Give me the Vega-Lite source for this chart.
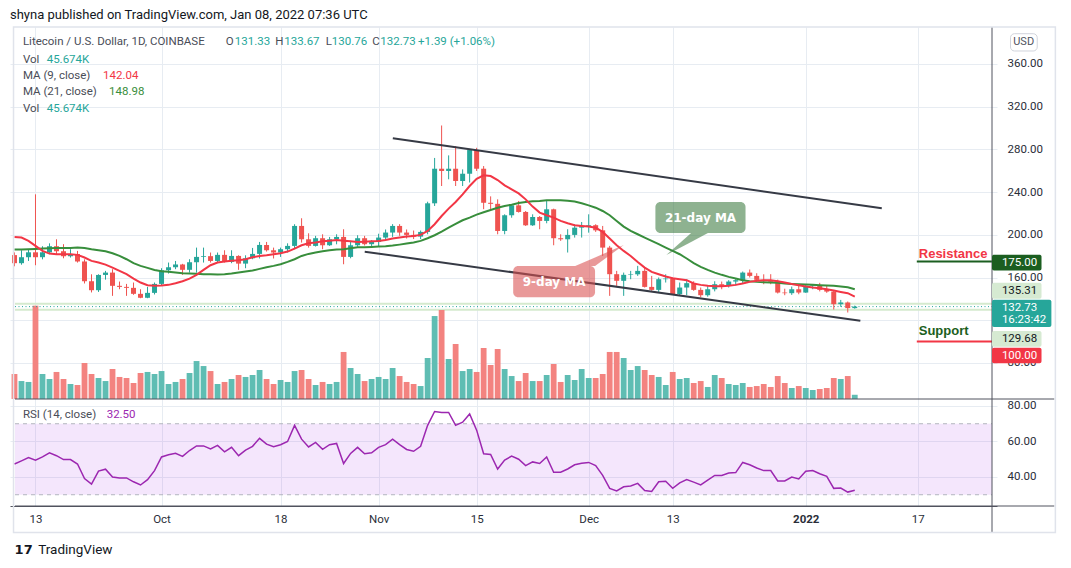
{
"$schema":"https://vega.github.io/schema/vega-lite/v6.json",
"width":987,"height":479,
"autosize":{"type":"none"},
"padding":{"left":10,"top":27,"right":74,"bottom":62},
"background":"#ffffff",
"title":{"text":"shyna published on TradingView.com, Jan 08, 2022 07:36 UTC","anchor":"start","frame":"group","font":"Roboto","fontSize":13,"fontWeight":"normal","color":"#131722","offset":4},
"config":{"view":{"stroke":null},"font":"Roboto"},
"datasets":{
"d":[
{"t":"2021-09-10","o":181,"h":183.5,"l":170.5,"c":173.4,"v":270,"m9":198,"m21":186.2,"r":47.3},
{"t":"2021-09-11","o":173.4,"h":185.5,"l":172,"c":179,"v":194,"m9":197.4,"m21":186.2,"r":49.1},
{"t":"2021-09-12","o":179,"h":185.8,"l":175.5,"c":183.6,"v":184,"m9":194.3,"m21":186.5,"r":50.9},
{"t":"2021-09-13","o":183.6,"h":237.9,"l":171.5,"c":179,"v":1008,"m9":189.6,"m21":186.8,"r":49.5},
{"t":"2021-09-14","o":179,"h":189.3,"l":177,"c":183.6,"v":270,"m9":184.9,"m21":187.1,"r":51.3},
{"t":"2021-09-15","o":183.6,"h":192,"l":181.8,"c":189.3,"v":216,"m9":182.4,"m21":187.4,"r":53.6},
{"t":"2021-09-16","o":189.3,"h":195.8,"l":181.8,"c":184.6,"v":292,"m9":181.8,"m21":187.7,"r":52},
{"t":"2021-09-17","o":184.6,"h":191.2,"l":178,"c":179.9,"v":216,"m9":181.8,"m21":187.7,"r":49.8},
{"t":"2021-09-18","o":179.9,"h":186.5,"l":178.7,"c":182,"v":162,"m9":181.8,"m21":187.7,"r":49.8},
{"t":"2021-09-19","o":182,"h":184.9,"l":174,"c":175,"v":151,"m9":181.2,"m21":188,"r":47.3},
{"t":"2021-09-20","o":175,"h":177,"l":154.4,"c":156.5,"v":389,"m9":178.7,"m21":187.7,"r":39.1},
{"t":"2021-09-21","o":156.5,"h":163,"l":146,"c":148.1,"v":270,"m9":175.6,"m21":186.5,"r":36},
{"t":"2021-09-22","o":148.1,"h":163,"l":146.5,"c":162.4,"v":227,"m9":174,"m21":185.5,"r":43.3},
{"t":"2021-09-23","o":162.4,"h":166.2,"l":158,"c":164.6,"v":194,"m9":172.1,"m21":184.6,"r":44.4},
{"t":"2021-09-24","o":164.6,"h":167.8,"l":142.8,"c":152.2,"v":324,"m9":169.3,"m21":182.7,"r":40},
{"t":"2021-09-25","o":152.2,"h":156.2,"l":149,"c":151.2,"v":238,"m9":166.2,"m21":180.2,"r":39.5},
{"t":"2021-09-26","o":151.2,"h":154,"l":142.8,"c":150.3,"v":227,"m9":163.1,"m21":177.1,"r":39.5},
{"t":"2021-09-27","o":150.3,"h":155.3,"l":143.8,"c":144.7,"v":173,"m9":159,"m21":173.4,"r":37.3},
{"t":"2021-09-28","o":144.7,"h":149,"l":140.6,"c":141,"v":281,"m9":155.3,"m21":170.9,"r":35.5},
{"t":"2021-09-29","o":141,"h":151.2,"l":140.6,"c":145.6,"v":292,"m9":152.8,"m21":169,"r":38.5},
{"t":"2021-09-30","o":145.6,"h":155.3,"l":144.1,"c":154,"v":270,"m9":152.2,"m21":167.1,"r":43.6},
{"t":"2021-10-01","o":154,"h":168.7,"l":152.2,"c":166.8,"v":302,"m9":152.5,"m21":165.9,"r":51.3},
{"t":"2021-10-02","o":166.8,"h":174,"l":163.7,"c":169.6,"v":162,"m9":153.1,"m21":165.3,"r":52.5},
{"t":"2021-10-03","o":169.6,"h":175.5,"l":167.8,"c":172.2,"v":184,"m9":154.7,"m21":164.6,"r":53.3},
{"t":"2021-10-04","o":172.2,"h":172.8,"l":162.5,"c":167.2,"v":216,"m9":156.5,"m21":164,"r":51.6},
{"t":"2021-10-05","o":167.2,"h":177.1,"l":164.6,"c":174.3,"v":281,"m9":159,"m21":163.7,"r":54.9},
{"t":"2021-10-06","o":174.3,"h":188,"l":164.6,"c":179.3,"v":410,"m9":162.5,"m21":163.4,"r":57.5},
{"t":"2021-10-07","o":179.3,"h":188,"l":174,"c":180,"v":356,"m9":167.1,"m21":163.1,"r":57.5},
{"t":"2021-10-08","o":180,"h":183.4,"l":174,"c":175.5,"v":302,"m9":171.5,"m21":163.1,"r":55.8},
{"t":"2021-10-09","o":175.5,"h":183.4,"l":174,"c":181.2,"v":162,"m9":174,"m21":162.8,"r":57.8},
{"t":"2021-10-10","o":181.2,"h":185.5,"l":174,"c":174.6,"v":184,"m9":174.9,"m21":163.1,"r":54.2},
{"t":"2021-10-11","o":174.6,"h":185.5,"l":173.4,"c":180.2,"v":216,"m9":175.6,"m21":163.7,"r":56.7},
{"t":"2021-10-12","o":180.2,"h":180.8,"l":167.2,"c":173,"v":259,"m9":176.2,"m21":164.6,"r":52},
{"t":"2021-10-13","o":173,"h":180.8,"l":168.7,"c":178,"v":238,"m9":177.1,"m21":165.6,"r":55.1},
{"t":"2021-10-14","o":178,"h":187.7,"l":177.1,"c":182.1,"v":259,"m9":179,"m21":166.5,"r":57.3},
{"t":"2021-10-15","o":182.1,"h":193.3,"l":177.8,"c":190.5,"v":313,"m9":180.2,"m21":168.1,"r":61.8},
{"t":"2021-10-16","o":190.5,"h":193.3,"l":184.3,"c":185.5,"v":216,"m9":180.9,"m21":169.6,"r":58.5},
{"t":"2021-10-17","o":185.5,"h":188,"l":177.8,"c":183.4,"v":162,"m9":181.8,"m21":170.9,"r":57.1},
{"t":"2021-10-18","o":183.4,"h":188,"l":179.3,"c":186.5,"v":205,"m9":182.7,"m21":172.4,"r":58.2},
{"t":"2021-10-19","o":186.5,"h":192,"l":183.4,"c":189.6,"v":184,"m9":184.3,"m21":174.6,"r":60},
{"t":"2021-10-20","o":189.6,"h":209.9,"l":186.5,"c":208.3,"v":302,"m9":187.1,"m21":177.1,"r":69.1},
{"t":"2021-10-21","o":208.3,"h":215.5,"l":192.7,"c":195.8,"v":313,"m9":190.2,"m21":180.2,"r":61.3},
{"t":"2021-10-22","o":195.8,"h":201.4,"l":188,"c":189.6,"v":216,"m9":192.1,"m21":182.1,"r":56.9},
{"t":"2021-10-23","o":189.6,"h":199,"l":189,"c":196.8,"v":151,"m9":192.7,"m21":183.4,"r":59.5},
{"t":"2021-10-24","o":196.8,"h":200.5,"l":186.5,"c":190.2,"v":184,"m9":193.9,"m21":184.6,"r":55.6},
{"t":"2021-10-25","o":190.2,"h":198,"l":189.6,"c":195.8,"v":162,"m9":194.5,"m21":185.5,"r":58.2},
{"t":"2021-10-26","o":195.8,"h":200.5,"l":191.1,"c":198,"v":184,"m9":195.2,"m21":186.2,"r":58.9},
{"t":"2021-10-27","o":198,"h":205.2,"l":172.4,"c":179.3,"v":508,"m9":194.5,"m21":186.5,"r":47.6},
{"t":"2021-10-28","o":179.3,"h":194.3,"l":178,"c":190.2,"v":335,"m9":193.9,"m21":187.4,"r":53.3},
{"t":"2021-10-29","o":190.2,"h":199.6,"l":188.7,"c":196.8,"v":270,"m9":193.3,"m21":188.3,"r":56.7},
{"t":"2021-10-30","o":196.8,"h":199,"l":190,"c":191.2,"v":194,"m9":193.6,"m21":188.3,"r":53.1},
{"t":"2021-10-31","o":191.2,"h":195,"l":188.7,"c":193.3,"v":216,"m9":193.9,"m21":188.6,"r":53.6},
{"t":"2021-11-01","o":193.3,"h":201,"l":189,"c":197.4,"v":238,"m9":194.3,"m21":189,"r":56.7},
{"t":"2021-11-02","o":197.4,"h":205,"l":195,"c":202.1,"v":216,"m9":195.2,"m21":189.3,"r":58.2},
{"t":"2021-11-03","o":202.1,"h":210,"l":198,"c":208.3,"v":335,"m9":196.5,"m21":189.9,"r":61.3},
{"t":"2021-11-04","o":208.3,"h":210,"l":199,"c":202.1,"v":248,"m9":197.4,"m21":190.8,"r":58.2},
{"t":"2021-11-05","o":202.1,"h":205,"l":196.5,"c":199.9,"v":184,"m9":198.3,"m21":191.8,"r":55.5},
{"t":"2021-11-06","o":199.9,"h":204,"l":196,"c":198.3,"v":162,"m9":198.9,"m21":192.7,"r":54.5},
{"t":"2021-11-07","o":198.3,"h":204,"l":196,"c":202.7,"v":140,"m9":199.9,"m21":194.3,"r":57.3},
{"t":"2021-11-08","o":202.7,"h":231,"l":200.5,"c":229.5,"v":443,"m9":203.6,"m21":196.8,"r":69.1},
{"t":"2021-11-09","o":229.5,"h":272,"l":227,"c":261.9,"v":896,"m9":209.9,"m21":199.6,"r":76.9},
{"t":"2021-11-10","o":261.9,"h":302.4,"l":245.7,"c":259.8,"v":961,"m9":217.6,"m21":203,"r":76.4},
{"t":"2021-11-11","o":259.8,"h":274.4,"l":252,"c":261.9,"v":432,"m9":224.5,"m21":206.7,"r":76.4},
{"t":"2021-11-12","o":261.9,"h":283.1,"l":245.7,"c":250.4,"v":594,"m9":230.7,"m21":210.2,"r":69.1},
{"t":"2021-11-13","o":250.4,"h":261.3,"l":245.7,"c":257.2,"v":302,"m9":237.9,"m21":213.6,"r":70.9},
{"t":"2021-11-14","o":257.2,"h":280.5,"l":249,"c":279.4,"v":324,"m9":245.7,"m21":216.1,"r":75.5},
{"t":"2021-11-15","o":279.4,"h":281.5,"l":259.8,"c":261.9,"v":292,"m9":252.5,"m21":218.9,"r":66.4},
{"t":"2021-11-16","o":261.9,"h":264.4,"l":224,"c":230,"v":551,"m9":255.7,"m21":221.1,"r":53.1},
{"t":"2021-11-17","o":230,"h":236,"l":224,"c":229,"v":367,"m9":255,"m21":223.3,"r":52.7},
{"t":"2021-11-18","o":229,"h":233.2,"l":200.5,"c":203.6,"v":540,"m9":251.3,"m21":225.4,"r":44.5},
{"t":"2021-11-19","o":203.6,"h":219.2,"l":200.5,"c":218.3,"v":324,"m9":246.3,"m21":227,"r":49.5},
{"t":"2021-11-20","o":218.3,"h":228.5,"l":216,"c":227.6,"v":248,"m9":242.6,"m21":228.2,"r":51.8},
{"t":"2021-11-21","o":227.6,"h":231.7,"l":220.8,"c":221.4,"v":194,"m9":238.8,"m21":229.8,"r":50},
{"t":"2021-11-22","o":221.4,"h":222.3,"l":208.3,"c":208.9,"v":281,"m9":233.2,"m21":230.7,"r":46.4},
{"t":"2021-11-23","o":208.9,"h":219.2,"l":208.3,"c":216.7,"v":194,"m9":226.4,"m21":231.4,"r":48.5},
{"t":"2021-11-24","o":216.7,"h":217.6,"l":205.2,"c":213,"v":194,"m9":220.8,"m21":231.7,"r":47.6},
{"t":"2021-11-25","o":213,"h":232.3,"l":210.8,"c":223.9,"v":259,"m9":218.3,"m21":232.3,"r":51.3},
{"t":"2021-11-26","o":223.9,"h":224.5,"l":190.2,"c":196.8,"v":378,"m9":216.1,"m21":232.3,"r":42.7},
{"t":"2021-11-27","o":196.8,"h":200.5,"l":194.3,"c":195.8,"v":184,"m9":213,"m21":232.3,"r":42.7},
{"t":"2021-11-28","o":195.8,"h":205.2,"l":183.4,"c":199.9,"v":259,"m9":210.8,"m21":232,"r":44.5},
{"t":"2021-11-29","o":199.9,"h":209.9,"l":197.4,"c":206.7,"v":205,"m9":208.9,"m21":231.1,"r":46.9},
{"t":"2021-11-30","o":206.7,"h":212,"l":197.4,"c":208.3,"v":324,"m9":208.3,"m21":229.5,"r":47.8},
{"t":"2021-12-01","o":208.3,"h":219.2,"l":202,"c":209,"v":227,"m9":207.7,"m21":227.6,"r":48.2},
{"t":"2021-12-02","o":209,"h":209.9,"l":202.7,"c":204.2,"v":227,"m9":206.7,"m21":225.4,"r":46.4},
{"t":"2021-12-03","o":204.2,"h":208.3,"l":180.2,"c":188,"v":270,"m9":202.7,"m21":222.3,"r":40.9},
{"t":"2021-12-04","o":188,"h":189.6,"l":142.8,"c":163.1,"v":508,"m9":196.5,"m21":218.3,"r":33.6},
{"t":"2021-12-05","o":163.1,"h":166.2,"l":152.2,"c":156.9,"v":508,"m9":190.2,"m21":213,"r":32.2},
{"t":"2021-12-06","o":156.9,"h":164.6,"l":142.8,"c":162.5,"v":443,"m9":184.9,"m21":207.7,"r":34.5},
{"t":"2021-12-07","o":162.5,"h":166.2,"l":158.4,"c":163,"v":313,"m9":180.2,"m21":203.6,"r":34.9},
{"t":"2021-12-08","o":163,"h":170.9,"l":161.5,"c":166.2,"v":356,"m9":174.6,"m21":200.5,"r":36.4},
{"t":"2021-12-09","o":166.2,"h":169.3,"l":150.6,"c":151.2,"v":313,"m9":169.3,"m21":197.4,"r":32.4},
{"t":"2021-12-10","o":151.2,"h":161.5,"l":147.5,"c":148.4,"v":259,"m9":165.3,"m21":194.3,"r":31.8},
{"t":"2021-12-11","o":148.4,"h":160,"l":146.5,"c":158.4,"v":238,"m9":163.1,"m21":191.2,"r":37.3},
{"t":"2021-12-12","o":158.4,"h":163,"l":155.3,"c":159,"v":151,"m9":160.9,"m21":188,"r":37.6},
{"t":"2021-12-13","o":159,"h":160,"l":143.7,"c":144.4,"v":292,"m9":159.3,"m21":184.9,"r":33.6},
{"t":"2021-12-14","o":144.4,"h":155.3,"l":143.4,"c":150.6,"v":216,"m9":158.4,"m21":181.8,"r":36.7},
{"t":"2021-12-15","o":150.6,"h":158.4,"l":143.4,"c":154.7,"v":227,"m9":157.5,"m21":177.8,"r":38.5},
{"t":"2021-12-16","o":154.7,"h":156.5,"l":147.5,"c":148.4,"v":173,"m9":154.4,"m21":173.4,"r":37.1},
{"t":"2021-12-17","o":148.4,"h":150.6,"l":141.5,"c":143.4,"v":194,"m9":153.1,"m21":170,"r":35.5},
{"t":"2021-12-18","o":143.4,"h":152,"l":142,"c":149,"v":130,"m9":152.2,"m21":167.1,"r":38.2},
{"t":"2021-12-19","o":149,"h":156.5,"l":147,"c":153.7,"v":259,"m9":151.9,"m21":164.6,"r":40.9},
{"t":"2021-12-20","o":153.7,"h":156.2,"l":149,"c":152.2,"v":227,"m9":151.9,"m21":162.5,"r":40.9},
{"t":"2021-12-21","o":152.2,"h":157.5,"l":150.6,"c":156.2,"v":162,"m9":152.2,"m21":160.6,"r":42.2},
{"t":"2021-12-22","o":156.2,"h":159,"l":152.5,"c":157.5,"v":151,"m9":153.1,"m21":159,"r":42.5},
{"t":"2021-12-23","o":157.5,"h":165.6,"l":154,"c":164.6,"v":173,"m9":154.4,"m21":157.5,"r":48.2},
{"t":"2021-12-24","o":164.6,"h":167.5,"l":160,"c":161.5,"v":130,"m9":155.9,"m21":156.5,"r":46.9},
{"t":"2021-12-25","o":161.5,"h":164,"l":157.2,"c":157.8,"v":140,"m9":156.9,"m21":155.9,"r":45.1},
{"t":"2021-12-26","o":157.8,"h":163,"l":153.7,"c":156.9,"v":162,"m9":157.5,"m21":155.6,"r":43.6},
{"t":"2021-12-27","o":156.9,"h":163.1,"l":153.7,"c":156,"v":130,"m9":157.5,"m21":155.3,"r":43.6},
{"t":"2021-12-28","o":156,"h":158,"l":145,"c":145.9,"v":248,"m9":156.5,"m21":155,"r":37.8},
{"t":"2021-12-29","o":145.9,"h":149.5,"l":143.4,"c":145.3,"v":173,"m9":155.3,"m21":154.4,"r":37.8},
{"t":"2021-12-30","o":145.3,"h":151.5,"l":143.7,"c":149,"v":119,"m9":154,"m21":154,"r":40},
{"t":"2021-12-31","o":149,"h":152.3,"l":144.3,"c":145.9,"v":140,"m9":152.8,"m21":153.7,"r":38.9},
{"t":"2022-01-01","o":145.9,"h":153,"l":145.6,"c":152.2,"v":119,"m9":151.5,"m21":153.4,"r":43.3},
{"t":"2022-01-02","o":152.2,"h":153.5,"l":149,"c":152.8,"v":97,"m9":150.6,"m21":153.1,"r":43.6},
{"t":"2022-01-03","o":152.8,"h":155,"l":147,"c":148.4,"v":108,"m9":150,"m21":152.8,"r":41.8},
{"t":"2022-01-04","o":148.4,"h":152,"l":145.6,"c":146.8,"v":119,"m9":149,"m21":152.5,"r":40.4},
{"t":"2022-01-05","o":146.8,"h":148.4,"l":130,"c":135,"v":227,"m9":147.8,"m21":152.2,"r":33.6},
{"t":"2022-01-06","o":135,"h":139,"l":132.5,"c":136.6,"v":216,"m9":146.5,"m21":151.5,"r":33.8},
{"t":"2022-01-07","o":136.6,"h":137.5,"l":127.2,"c":131.33,"v":248,"m9":145.3,"m21":150.9,"r":31.5},
{"t":"2022-01-08","o":131.33,"h":133.67,"l":130.76,"c":132.73,"v":45.674,"m9":142.04,"m21":148.98,"r":32.5}
],
"hl":[{"t":"2021-09-10T01:46:00Z","t2":"2022-01-27T14:23:00Z","p":135.31},{"t":"2021-09-10T01:46:00Z","t2":"2022-01-27T14:23:00Z","p":129.68}],
"dot":[{"t":"2021-09-10T01:46:00Z","t2":"2022-01-27T14:23:00Z","p":132.73}],
"ch":[{"t":"2021-11-03T00:43:00Z","p":290.37,"g":"upper"},{"t":"2022-01-11T20:38:00Z","p":224.8,"g":"upper"},{"t":"2021-10-30T00:29:00Z","p":184.2,"g":"lower"},{"t":"2022-01-08T19:12:00Z","p":119.53,"g":"lower"}],
"cb":[{"t":"2021-12-10T12:43:00Z","t2":"2021-12-23T09:36:00Z","p":230.73,"p2":201.69,"k":"box21"},{"t":"2021-11-20T05:17:00Z","t2":"2021-12-01T21:50:00Z","p":170.77,"p2":141.45,"k":"box9"}],
"pt":[{"t":"2021-12-12T02:10:00Z","p":181.08,"p2":181.08,"g":"a","k":"box21"},{"t":"2021-12-15T15:07:00Z","p":201.69,"p2":193.35,"g":"a","k":"box21"},{"t":"2021-12-18T00:43:00Z","p":201.69,"p2":201.69,"g":"a","k":"box21"},{"t":"2021-11-29T01:55:00Z","p":170.77,"p2":170.77,"g":"b","k":"box9"},{"t":"2021-12-01T21:50:00Z","p":178.8,"p2":170.77,"g":"b","k":"box9"},{"t":"2021-12-06T00:14:00Z","p":190.44,"p2":190.44,"g":"b","k":"box9"}],
"ct":[{"t":"2021-12-16T23:17:00Z","p":216.2,"text":"21-day MA"},{"t":"2021-11-26T01:41:00Z","p":156.06,"text":"9-day MA"}],
"sr":[{"t":"2022-01-16T20:38:00Z","t2":"2022-01-27T14:23:00Z","p":175,"k":"res"},{"t":"2022-01-16T20:38:00Z","t2":"2022-01-27T14:23:00Z","p":100,"k":"sup"}],
"srt":[{"t":"2022-01-17T03:22:00Z","p":181.7,"text":"Resistance","k":"sup"},{"t":"2022-01-17T03:22:00Z","p":109.6,"text":"Support","k":"res"}],
"sep":[{"t":"2021-09-10T01:46:00Z","t2":"2022-02-05T12:00:00Z","p":46.18},{"t":"2021-09-10T01:46:00Z","t2":"2022-02-05T12:00:00Z","p":-54.05}],
"vx":[{"t":"2022-01-27T14:23:00Z","p":394.66,"p2":-78.4}],
"fr":[{"t":"2021-09-09T20:41:00Z","t2":"2022-02-05T15:36:00Z","p":394.66,"p2":-78.9}],
"bg":[{"t":"2022-01-27T14:23:00Z","t2":"2022-02-03T16:05:00Z","p":181.4,"p2":166.5,"k":"res"},{"t":"2022-01-27T14:23:00Z","t2":"2022-02-03T16:05:00Z","p":155.13,"p2":140.14,"k":"line"},{"t":"2022-01-27T14:23:00Z","t2":"2022-02-05T01:55:00Z","p":139.2,"p2":113.58,"k":"last"},{"t":"2022-01-27T14:23:00Z","t2":"2022-02-03T16:05:00Z","p":109.88,"p2":95.18,"k":"line"},{"t":"2022-01-27T14:23:00Z","t2":"2022-02-03T16:05:00Z","p":94.24,"p2":79.63,"k":"sup"}],
"bt":[{"t":"2022-01-29T00:14:00Z","p":174.05,"text":"175.00","k":"w"},{"t":"2022-01-29T00:14:00Z","p":147.6,"text":"135.31","k":"k"},{"t":"2022-01-29T00:14:00Z","p":131.43,"text":"132.73","k":"w"},{"t":"2022-01-29T00:14:00Z","p":119.9,"text":"16:23:42","k":"w"},{"t":"2022-01-29T00:14:00Z","p":102.53,"text":"129.68","k":"k"},{"t":"2022-01-29T00:14:00Z","p":86.93,"text":"100.00","k":"w"}],
"usd":[{"t":"2022-01-30T05:46:00Z","t2":"2022-02-03T01:26:00Z","p":388.38,"p2":372.18}],
"usdt":[{"t":"2022-02-01T02:53:00Z","p":380.28,"text":"USD"}],
"lg":[
{"t":"2021-09-11T04:55:00Z","p":380.6,"text":"Litecoin / U.S. Dollar, 1D, COINBASE","k":"lbl"},
{"t":"2021-10-10T04:19:00Z","p":380.6,"text":"O","k":"lbl"},
{"t":"2021-10-11T11:02:00Z","p":380.6,"text":"131.33","k":"val"},
{"t":"2021-10-17T06:00:00Z","p":380.6,"text":"H","k":"lbl"},
{"t":"2021-10-18T12:29:00Z","p":380.6,"text":"133.67","k":"val"},
{"t":"2021-10-24T11:02:00Z","p":380.6,"text":"L","k":"lbl"},
{"t":"2021-10-25T07:26:00Z","p":380.6,"text":"130.76","k":"val"},
{"t":"2021-10-31T02:38:00Z","p":380.6,"text":"C","k":"lbl"},
{"t":"2021-11-01T05:46:00Z","p":380.6,"text":"132.73","k":"val"},
{"t":"2021-11-06T14:38:00Z","p":380.6,"text":"+1.39 (+1.06%)","k":"val"},
{"t":"2021-09-11T04:55:00Z","p":364.0,"text":"Vol","k":"lbl"},
{"t":"2021-09-14T14:20:00Z","p":364.0,"text":"45.674K","k":"val"},
{"t":"2021-09-11T04:55:00Z","p":348.5,"text":"MA (9, close)","k":"lbl"},
{"t":"2021-09-22T15:43:00Z","p":348.5,"text":"142.04","k":"ma9"},
{"t":"2021-09-11T04:55:00Z","p":333.5,"text":"MA (21, close)","k":"lbl"},
{"t":"2021-09-23T12:00:00Z","p":333.5,"text":"148.98","k":"ma21"},
{"t":"2021-09-11T04:55:00Z","p":317.85,"text":"Vol","k":"lbl"},
{"t":"2021-09-14T14:20:00Z","p":317.85,"text":"45.674K","k":"val"}
],
"ft":[{"t":"2021-09-13T09:10:00Z","p":-95.3,"text":"TradingView"}],
"lo":[{"t":"2021-09-10T00:25:00Z","p":-95.3,"text":"17"}],
"rb":[{"t":"2021-09-10T01:46:00Z","t2":"2022-01-27T14:23:00Z","r":30,"r2":70}],
"rd":[{"t":"2021-09-10T01:46:00Z","t2":"2022-01-27T14:23:00Z","r":70},{"t":"2021-09-10T01:46:00Z","t2":"2022-01-27T14:23:00Z","r":30}],
"rt":[{"t":"2021-09-11T04:55:00Z","r":74.8,"text":"RSI (14, close)","k":"lbl"},{"t":"2021-09-23T03:56:00Z","r":74.8,"text":"32.50","k":"rsi"}]
},
"encoding":{"x":{"field":"t","type":"temporal","scale":{"type":"utc","domain":[{"year":2021,"month":9,"date":10,"hours":1,"minutes":46,"utc":true},{"year":2022,"month":1,"date":27,"hours":14,"minutes":23,"utc":true}]},
"axis":{"title":null,"values":[{"year":2021,"month":9,"date":13,"utc":true},{"year":2021,"month":10,"date":1,"utc":true},{"year":2021,"month":10,"date":18,"utc":true},{"year":2021,"month":11,"date":1,"utc":true},{"year":2021,"month":11,"date":15,"utc":true},{"year":2021,"month":12,"date":1,"utc":true},{"year":2021,"month":12,"date":13,"utc":true},{"year":2022,"month":1,"date":1,"utc":true},{"year":2022,"month":1,"date":17,"utc":true}],
"labelExpr":"utcdate(datum.value) == 1 ? (utcmonth(datum.value) == 0 ? utcFormat(datum.value, '%Y') : utcFormat(datum.value, '%b')) : utcFormat(datum.value, '%-d')",
"labelFontWeight":{"condition":{"test":"utcmonth(datum.value) == 0 && utcdate(datum.value) == 1","value":"bold"},"value":"normal"},
"grid":true,"gridColor":"#e7ecf2","ticks":false,"tickSize":0,"labelPadding":7,"domainColor":"#50535e","labelColor":"#2a2e39","labelFontSize":11.5,"labelFont":"Roboto","labelFlush":false,"labelOverlap":false}}},
"layer":[
{"data":{"name":"hl"},"mark":{"type":"rule","strokeWidth":2,"color":"#d5eace"},
 "encoding":{"x2":{"field":"t2"},"y":{"field":"p","type":"quantitative","scale":{"domain":[-54.05,394.66],"nice":false,"zero":false},
 "axis":{"orient":"right","values":[80,120,160,200,240,280,320,360],"labelExpr":"datum.value == 120 ? '' : format(datum.value, '.2f')","grid":true,"gridColor":"#e7ecf2","domain":false,"ticks":false,"tickSize":0,"labelPadding":10,"labelColor":"#2a2e39","labelFontSize":11.5,"labelFont":"Roboto","title":null,"labelFlush":false,"labelOverlap":false}}}},
{"data":{"name":"rb"},"mark":{"type":"rect","color":"#b44ee8","opacity":0.14},
 "encoding":{"x2":{"field":"t2"},"y":{"field":"r","type":"quantitative","scale":{"domain":[23.66,293.52],"nice":false,"zero":false},
 "axis":{"orient":"right","values":[40,60,80],"labelExpr":"format(datum.value, '.2f')","grid":true,"gridColor":"#e7ecf2","domain":false,"ticks":false,"tickSize":0,"labelPadding":10,"labelColor":"#2a2e39","labelFontSize":11.5,"labelFont":"Roboto","title":null,"labelFlush":false,"labelOverlap":false}},"y2":{"field":"r2"}}},
{"data":{"name":"d"},"mark":{"type":"bar","width":5.8,"clip":true},
 "encoding":{"y":{"field":"v","type":"quantitative","scale":{"domain":[-1155.6,4017.6],"nice":false,"zero":false},"axis":null},"y2":{"datum":0},
 "color":{"condition":{"test":"datum.c >= datum.o","value":"#5fbdb3"},"value":"#f38380"}}},
{"data":{"name":"rd"},"mark":{"type":"rule","color":"#b2b5be","strokeDash":[4,4],"strokeWidth":1},
 "encoding":{"x2":{"field":"t2"},"y":{"field":"r","type":"quantitative","scale":{"domain":[23.66,293.52],"nice":false,"zero":false},"axis":null}}},
{"data":{"name":"d"},"mark":{"type":"line","color":"#9c27b0","strokeWidth":1.5,"clip":true},
 "encoding":{"y":{"field":"r","type":"quantitative","scale":{"domain":[23.66,293.52],"nice":false,"zero":false},"axis":null}}},
{"data":{"name":"rt"},"mark":{"type":"text","font":"Roboto","fontSize":11.5,"align":"left","baseline":"middle"},
 "encoding":{"y":{"field":"r","type":"quantitative","scale":{"domain":[23.66,293.52],"nice":false,"zero":false},"axis":null},"text":{"field":"text"},
 "color":{"field":"k","type":"nominal","legend":null,"scale":{"domain":["lbl","val","ma9","ma21","rsi","res","sup","line","last","w","k","box21","box9"],"range":["#4a4d57","#26a69a","#f23645","#388e3c","#9c27b0","#1b5e20","#f23645","#d6ead2","#26a69a","#ffffff","#131722","#3c7a40","#d94f4f"]}}}},
{"data":{"name":"dot"},"mark":{"type":"rule","strokeWidth":1,"color":"#26a69a","strokeDash":[1,2.5]},
 "encoding":{"x2":{"field":"t2"},"y":{"field":"p","type":"quantitative","scale":{"domain":[-54.05,394.66],"nice":false,"zero":false},"axis":null}}},
{"data":{"name":"d"},"mark":{"type":"rule","strokeWidth":1,"clip":true},
 "encoding":{"y":{"field":"l","type":"quantitative","scale":{"domain":[-54.05,394.66],"nice":false,"zero":false},"axis":null},"y2":{"field":"h"},
 "color":{"condition":{"test":"datum.c >= datum.o","value":"#26a69a"},"value":"#ef5350"}}},
{"data":{"name":"d"},"mark":{"type":"bar","width":5,"clip":true},
 "encoding":{"y":{"field":"o","type":"quantitative","scale":{"domain":[-54.05,394.66],"nice":false,"zero":false},"axis":null},"y2":{"field":"c"},
 "color":{"condition":{"test":"datum.c >= datum.o","value":"#26a69a"},"value":"#ef5350"}}},
{"data":{"name":"d"},"mark":{"type":"line","color":"#388e3c","strokeWidth":2,"clip":true},
 "encoding":{"y":{"field":"m21","type":"quantitative","scale":{"domain":[-54.05,394.66],"nice":false,"zero":false},"axis":null}}},
{"data":{"name":"d"},"mark":{"type":"line","color":"#f23645","strokeWidth":2,"clip":true},
 "encoding":{"y":{"field":"m9","type":"quantitative","scale":{"domain":[-54.05,394.66],"nice":false,"zero":false},"axis":null}}},
{"data":{"name":"ch"},"mark":{"type":"line","color":"#363a45","strokeWidth":2},
 "encoding":{"y":{"field":"p","type":"quantitative","scale":{"domain":[-54.05,394.66],"nice":false,"zero":false},"axis":null},"detail":{"field":"g"}}},
{"data":{"name":"cb"},"mark":{"type":"rect","cornerRadius":5,"opacity":0.58},
 "encoding":{"x2":{"field":"t2"},"y":{"field":"p","type":"quantitative","scale":{"domain":[-54.05,394.66],"nice":false,"zero":false},"axis":null},"y2":{"field":"p2"},
 "color":{"field":"k","type":"nominal","legend":null,"scale":{"domain":["lbl","val","ma9","ma21","rsi","res","sup","line","last","w","k","box21","box9"],"range":["#4a4d57","#26a69a","#f23645","#388e3c","#9c27b0","#1b5e20","#f23645","#d6ead2","#26a69a","#ffffff","#131722","#3c7a40","#d94f4f"]}}}},
{"data":{"name":"pt"},"mark":{"type":"area","opacity":0.58},
 "encoding":{"y":{"field":"p","type":"quantitative","scale":{"domain":[-54.05,394.66],"nice":false,"zero":false},"axis":null},"y2":{"field":"p2"},"detail":{"field":"g"},
 "color":{"field":"k","type":"nominal","legend":null,"scale":{"domain":["lbl","val","ma9","ma21","rsi","res","sup","line","last","w","k","box21","box9"],"range":["#4a4d57","#26a69a","#f23645","#388e3c","#9c27b0","#1b5e20","#f23645","#d6ead2","#26a69a","#ffffff","#131722","#3c7a40","#d94f4f"]}}}},
{"data":{"name":"ct"},"mark":{"type":"text","font":"DejaVu Sans","fontWeight":"bold","fontSize":12,"color":"#ffffff","align":"center","baseline":"middle"},
 "encoding":{"y":{"field":"p","type":"quantitative","scale":{"domain":[-54.05,394.66],"nice":false,"zero":false},"axis":null},"text":{"field":"text"}}},
{"data":{"name":"sr"},"mark":{"type":"rule","strokeWidth":2},
 "encoding":{"x2":{"field":"t2"},"y":{"field":"p","type":"quantitative","scale":{"domain":[-54.05,394.66],"nice":false,"zero":false},"axis":null},
 "color":{"field":"k","type":"nominal","legend":null,"scale":{"domain":["lbl","val","ma9","ma21","rsi","res","sup","line","last","w","k","box21","box9"],"range":["#4a4d57","#26a69a","#f23645","#388e3c","#9c27b0","#1b5e20","#f23645","#d6ead2","#26a69a","#ffffff","#131722","#3c7a40","#d94f4f"]}}}},
{"data":{"name":"srt"},"mark":{"type":"text","font":"Liberation Sans","fontWeight":"bold","fontSize":13,"align":"left","baseline":"middle"},
 "encoding":{"y":{"field":"p","type":"quantitative","scale":{"domain":[-54.05,394.66],"nice":false,"zero":false},"axis":null},"text":{"field":"text"},
 "color":{"field":"k","type":"nominal","legend":null,"scale":{"domain":["lbl","val","ma9","ma21","rsi","res","sup","line","last","w","k","box21","box9"],"range":["#4a4d57","#26a69a","#f23645","#388e3c","#9c27b0","#1b5e20","#f23645","#d6ead2","#26a69a","#ffffff","#131722","#3c7a40","#d94f4f"]}}}},
{"data":{"name":"sep"},"mark":{"type":"rule","strokeWidth":1,"color":"#50535e"},
 "encoding":{"x2":{"field":"t2"},"y":{"field":"p","type":"quantitative","scale":{"domain":[-54.05,394.66],"nice":false,"zero":false},"axis":null}}},
{"data":{"name":"vx"},"mark":{"type":"rule","strokeWidth":1,"color":"#50535e"},
 "encoding":{"y":{"field":"p","type":"quantitative","scale":{"domain":[-54.05,394.66],"nice":false,"zero":false},"axis":null},"y2":{"field":"p2"}}},
{"data":{"name":"fr"},"mark":{"type":"rect","filled":false,"color":"#e0e3eb","strokeWidth":1.5},
 "encoding":{"x2":{"field":"t2"},"y":{"field":"p","type":"quantitative","scale":{"domain":[-54.05,394.66],"nice":false,"zero":false},"axis":null},"y2":{"field":"p2"}}},
{"data":{"name":"bg"},"mark":{"type":"rect","cornerRadius":2},
 "encoding":{"x2":{"field":"t2"},"y":{"field":"p","type":"quantitative","scale":{"domain":[-54.05,394.66],"nice":false,"zero":false},"axis":null},"y2":{"field":"p2"},
 "color":{"field":"k","type":"nominal","legend":null,"scale":{"domain":["lbl","val","ma9","ma21","rsi","res","sup","line","last","w","k","box21","box9"],"range":["#4a4d57","#26a69a","#f23645","#388e3c","#9c27b0","#1b5e20","#f23645","#d6ead2","#26a69a","#ffffff","#131722","#3c7a40","#d94f4f"]}}}},
{"data":{"name":"bt"},"mark":{"type":"text","font":"Roboto","fontSize":11.5,"align":"left","baseline":"middle"},
 "encoding":{"y":{"field":"p","type":"quantitative","scale":{"domain":[-54.05,394.66],"nice":false,"zero":false},"axis":null},"text":{"field":"text"},
 "color":{"field":"k","type":"nominal","legend":null,"scale":{"domain":["lbl","val","ma9","ma21","rsi","res","sup","line","last","w","k","box21","box9"],"range":["#4a4d57","#26a69a","#f23645","#388e3c","#9c27b0","#1b5e20","#f23645","#d6ead2","#26a69a","#ffffff","#131722","#3c7a40","#d94f4f"]}}}},
{"data":{"name":"usd"},"mark":{"type":"rect","fill":"#ffffff","stroke":"#d1d4dc","strokeWidth":1,"cornerRadius":4},
 "encoding":{"x2":{"field":"t2"},"y":{"field":"p","type":"quantitative","scale":{"domain":[-54.05,394.66],"nice":false,"zero":false},"axis":null},"y2":{"field":"p2"}}},
{"data":{"name":"usdt"},"mark":{"type":"text","font":"Roboto","fontSize":11,"color":"#50535e","align":"center","baseline":"middle"},
 "encoding":{"y":{"field":"p","type":"quantitative","scale":{"domain":[-54.05,394.66],"nice":false,"zero":false},"axis":null},"text":{"field":"text"}}},
{"data":{"name":"lg"},"mark":{"type":"text","font":"Roboto","fontSize":11.5,"align":"left","baseline":"middle"},
 "encoding":{"y":{"field":"p","type":"quantitative","scale":{"domain":[-54.05,394.66],"nice":false,"zero":false},"axis":null},"text":{"field":"text"},
 "color":{"field":"k","type":"nominal","legend":null,"scale":{"domain":["lbl","val","ma9","ma21","rsi","res","sup","line","last","w","k","box21","box9"],"range":["#4a4d57","#26a69a","#f23645","#388e3c","#9c27b0","#1b5e20","#f23645","#d6ead2","#26a69a","#ffffff","#131722","#3c7a40","#d94f4f"]}}}},
{"data":{"name":"ft"},"mark":{"type":"text","font":"Roboto","fontSize":13.5,"color":"#131722","align":"left","baseline":"middle"},
 "encoding":{"y":{"field":"p","type":"quantitative","scale":{"domain":[-54.05,394.66],"nice":false,"zero":false},"axis":null},"text":{"field":"text"}}},
{"data":{"name":"lo"},"mark":{"type":"text","font":"DejaVu Sans","fontWeight":"bold","fontSize":13,"color":"#131722","align":"left","baseline":"middle"},
 "encoding":{"y":{"field":"p","type":"quantitative","scale":{"domain":[-54.05,394.66],"nice":false,"zero":false},"axis":null},"text":{"field":"text"}}}
],
"resolve":{"scale":{"y":"independent"},"axis":{"y":"independent"}}
}
